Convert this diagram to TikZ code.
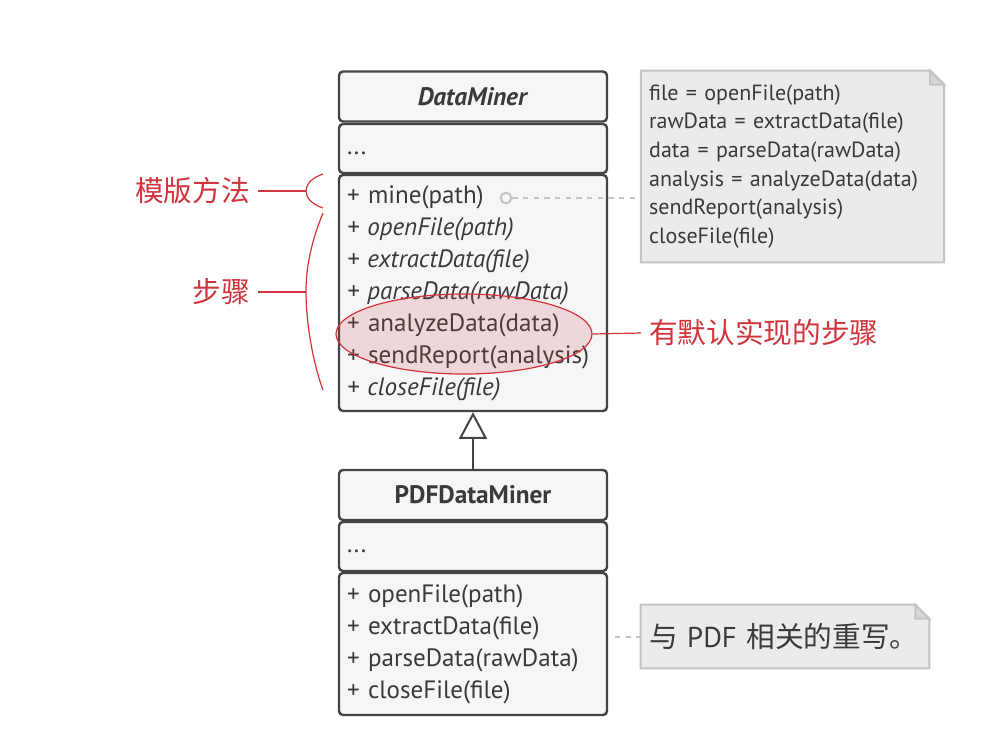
\documentclass[tikz,border=0pt]{standalone}
\usepackage{fontspec}
\setmainfont{PT Sans}
\newfontfamily\cjk{Noto Sans CJK SC}
\usetikzlibrary{shapes.geometric, arrows.meta, positioning, backgrounds, calc}
\definecolor{BoxBorder}{HTML}{444444}
\definecolor{BoxFill}{HTML}{F6F6F6}
\definecolor{InkGray}{HTML}{3A3A3A}
\definecolor{NoteFill}{HTML}{EBEBEB}
\definecolor{NoteBorder}{HTML}{C4C4C4}
\definecolor{AccentRed}{HTML}{D0343C}

\begin{document}
\begin{tikzpicture}[
  x=0.75pt, y=-0.75pt,
  classbox/.style={rectangle, rounded corners=3pt, draw=BoxBorder, fill=BoxFill,
                   line width=1.8pt, minimum width=201pt, inner xsep=6pt,
                   text width=189pt, text=InkGray,
                   font=\fontsize{18.8}{24}\selectfont},
  classname/.style={classbox, align=center, minimum height=37.5pt,
                    font=\fontsize{19}{22}\selectfont\bfseries},
  members/.style={classbox, align=left},
  notebox/.style={rectangle, inner xsep=6pt, align=left, text=InkGray,
                  font=\fontsize{16.5}{21.5}\selectfont},
  noteline/.style={draw=NoteBorder, fill=NoteFill, line width=1.5pt},
  link/.style={NoteBorder, line width=1.5pt, dash pattern=on 4pt off 4pt},
  remark/.style={text=AccentRed, font=\cjk\fontsize{21.5}{24}\selectfont, inner sep=6pt},
  redline/.style={AccentRed, line width=0.9pt},
  inherit/.style={-{Triangle[open, length=20pt, width=21pt]}, BoxBorder, line width=1.5pt},
]
\useasboundingbox (0,0) rectangle (997,744);

% abstract class
\node[classname] (dm-head) at (473,96.5) {\textit{DataMiner}};
\node[members, minimum height=36.75pt] (dm-attr) at (473,148.5) {...\strut};
\node[members, minimum height=177pt] (dm-ops) at (473,293)
  {+ mine(path)\\
   \textit{+ openFile(path)}\\
   \textit{+ extractData(file)}\\
   \textit{+ parseData(rawData)}\\
   + analyzeData(data)\\
   + sendReport(analysis)\\
   \textit{+ closeFile(file)}};

% subclass
\node[classname] (pdf-head) at (473,495) {PDFDataMiner};
\node[members, minimum height=36.75pt] (pdf-attr) at (473,546.5) {...\strut};
\node[members, minimum height=106.5pt] (pdf-ops) at (473,644)
  {+ openFile(path)\\
   + extractData(file)\\
   + parseData(rawData)\\
   + closeFile(file)};

\draw[inherit] (pdf-head) -- (dm-ops);

% notes
\node[notebox, text width=215pt, minimum height=143.25pt] (note-mine) at (792.5,166.5)
  {file = openFile(path)\\
   rawData = extractData(file)\\
   data = parseData(rawData)\\
   analysis = analyzeData(data)\\
   sendReport(analysis)\\
   closeFile(file)};
\node[notebox, text width=204pt, minimum height=47.25pt,
      font=\fontsize{21.5}{24}\selectfont] (note-pdf) at (785,636.5)
  {{\cjk 与} PDF {\cjk 相关的重写。}};

\begin{scope}[on background layer]
  \foreach \n in {note-mine, note-pdf} {
    \draw[noteline] (\n.north west) -- ([xshift=-10.5pt]\n.north east)
      -- ([yshift=-10.5pt]\n.north east) -- (\n.south east)
      -- (\n.south west) -- cycle;
    \draw[noteline, fill=NoteBorder!70] ([xshift=-10.5pt]\n.north east)
      -- ([xshift=-10.5pt, yshift=-10.5pt]\n.north east)
      -- ([yshift=-10.5pt]\n.north east) -- cycle;
  }
\end{scope}

\node[circle, draw=NoteBorder, line width=1.5pt, fill=BoxFill,
      minimum size=8pt, inner sep=0pt] (mine-dot) at (506,198) {};
\draw[link] (mine-dot) -- (mine-dot -| note-mine.west);
\coordinate (pdf-tail) at (615,636.5);
\draw[link] (pdf-tail) -- (note-pdf.west);

% red remarks
\node[ellipse, draw=AccentRed, line width=0.9pt, fill=AccentRed,
      fill opacity=0.16, minimum width=192pt, minimum height=60pt] (hl-default)
  at (464,334) {};
\node[remark, anchor=east] (lbl-template) at (258,191) {模版方法};
\node[remark, anchor=east] (lbl-steps) at (258,292) {步骤};
\node[remark, anchor=west] (lbl-default) at (641,333) {有默认实现的步骤};

\coordinate (tm-top) at (323,174);
\coordinate (tm-mid) at (306,191);
\coordinate (tm-bot) at (323,208);
\coordinate (st-top) at (323,213);
\coordinate (st-mid) at (306,292);
\coordinate (st-bot) at (323,390);

\draw[redline] (tm-top) .. controls (311,178) and (306,185) .. (tm-mid)
  .. controls (306,197) and (311,204) .. (tm-bot);
\draw[redline] (st-top) .. controls (312,240) and (306,265) .. (st-mid)
  .. controls (306,320) and (312,360) .. (st-bot);
\draw[redline] (lbl-template) -- (tm-mid);
\draw[redline] (lbl-steps) -- (st-mid);
\draw[redline] (hl-default.east) -- (lbl-default.west);

\end{tikzpicture}
\end{document}
